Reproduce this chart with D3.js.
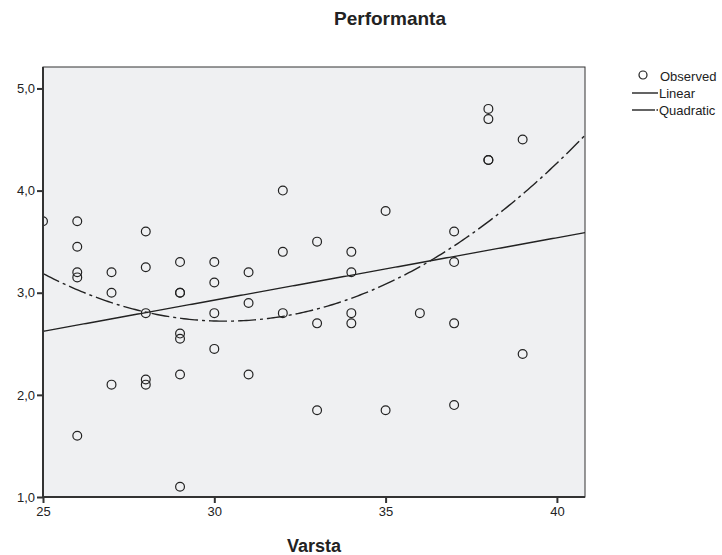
<!DOCTYPE html>
<html lang="en">
<head>
<meta charset="UTF-8">
<title>Performanta</title>
<style>
    body { margin: 0; background: #fff; }
    svg { font-family: "Liberation Sans", Arial, sans-serif; }
    .tick text { font-size: 13px; fill: #222; }
</style>
</head>
<body>
<script src="https://d3js.org/d3.v7.min.js"></script>
<script>
    // observed values: age (Varsta) and performance (Performanta)
    const varsta = [
        25,
        26, 26, 26, 26, 26,
        27, 27, 27,
        28, 28, 28, 28, 28,
        29, 29, 29, 29, 29, 29, 29,
        30, 30, 30, 30,
        31, 31, 31,
        32, 32, 32,
        33, 33, 33,
        34, 34, 34, 34,
        35, 35,
        36,
        37, 37, 37, 37,
        38, 38, 38, 38,
        39, 39
    ];
    const performanta = [
        3.7,
        3.7, 3.45, 3.2, 3.15, 1.6,
        3.2, 3.0, 2.1,
        3.6, 3.25, 2.8, 2.15, 2.1,
        3.3, 3.0, 3.0, 2.6, 2.55, 2.2, 1.1,
        3.3, 3.1, 2.8, 2.45,
        3.2, 2.9, 2.2,
        4.0, 3.4, 2.8,
        3.5, 2.7, 1.85,
        3.4, 3.2, 2.8, 2.7,
        3.8, 1.85,
        2.8,
        3.6, 3.3, 2.7, 1.9,
        4.8, 4.7, 4.3, 4.3,
        4.5, 2.4
    ];
    const xTicks = [25, 30, 35, 40];
    const yTicks = [1, 2, 3, 4, 5];
    const legendItems = ['Observed', 'Linear', 'Quadratic'];

    const W = 722, H = 555;
    const pl = 43, pr = 585, pt = 67, pb = 497;

    const svg = d3.select('body').append('svg')
        .attr('width', W).attr('height', H);

    const x = d3.scaleLinear().domain([25, 40.82]).range([pl, pr]);
    const y = d3.scaleLinear().domain([1, 5.21]).range([pb, pt]);

    // plot background + frame
    svg.append('rect')
        .attr('x', pl).attr('y', pt)
        .attr('width', pr - pl).attr('height', pb - pt)
        .attr('fill', '#eff0f2')
        .attr('stroke', '#333').attr('stroke-width', 1);

    svg.append('clipPath').attr('id', 'clip')
        .append('rect')
        .attr('x', pl).attr('y', pt)
        .attr('width', pr - pl).attr('height', pb - pt);

    // least squares fits (linear and quadratic)
    const pts = varsta.map((v, i) => [v, performanta[i]]);
    const mx = d3.mean(varsta);

    function solve(A, b) {
        const n = b.length;
        const M = A.map((r, i) => [...r, b[i]]);
        for (let c = 0; c < n; c++) {
            let p = c;
            for (let r = c + 1; r < n; r++) if (Math.abs(M[r][c]) > Math.abs(M[p][c])) p = r;
            [M[c], M[p]] = [M[p], M[c]];
            for (let r = 0; r < n; r++) {
                if (r === c) continue;
                const f = M[r][c] / M[c][c];
                for (let k = c; k <= n; k++) M[r][k] -= f * M[c][k];
            }
        }
        return M.map((r, i) => r[n] / r[i]);
    }

    function polyFit(deg) {
        const A = [], b = [];
        for (let i = 0; i <= deg; i++) {
            A.push([]);
            for (let j = 0; j <= deg; j++) A[i].push(d3.sum(pts, p => (p[0] - mx) ** (i + j)));
            b.push(d3.sum(pts, p => p[1] * (p[0] - mx) ** i));
        }
        const c = solve(A, b);
        return v => c.reduce((s, ci, i) => s + ci * (v - mx) ** i, 0);
    }

    const lin = polyFit(1), quad = polyFit(2);
    const xs = d3.range(0, 201).map(i => 25 + i * (40.82 - 25) / 200);
    const line = f => d3.line().x(v => x(v)).y(v => y(f(v)));

    const g = svg.append('g').attr('clip-path', 'url(#clip)');

    g.append('path')
        .attr('d', line(lin)(xs))
        .attr('fill', 'none').attr('stroke', '#222').attr('stroke-width', 1.4);

    g.append('path')
        .attr('d', line(quad)(xs))
        .attr('fill', 'none').attr('stroke', '#222').attr('stroke-width', 1.4)
        .attr('stroke-dasharray', '18,4,3,4');

    g.selectAll('.obs')
        .data(pts)
        .enter().append('circle')
        .attr('class', 'obs')
        .attr('cx', d => x(d[0]))
        .attr('cy', d => y(d[1]))
        .attr('r', 4.4)
        .attr('fill', 'none')
        .attr('stroke', '#222').attr('stroke-width', 1.2);

    // axes
    const xAxis = svg.append('g')
        .attr('transform', `translate(0,${pb})`)
        .call(d3.axisBottom(x).tickValues(xTicks).tickSize(6).tickPadding(4).tickFormat(d3.format('d')));
    const yAxis = svg.append('g')
        .attr('transform', `translate(${pl},0)`)
        .call(d3.axisLeft(y).tickValues(yTicks).tickSize(6).tickPadding(2).tickFormat(d => d.toFixed(1).replace('.', ',')));

    [xAxis, yAxis].forEach(a => {
        a.select('.domain').attr('stroke', '#333').attr('stroke-width', 2);
        a.selectAll('.tick line').attr('stroke', '#333').attr('stroke-width', 2);
    });
    xAxis.select('.domain').attr('d', `M${pl},0H${pr}`);
    yAxis.select('.domain').attr('d', `M0,${pb}V${pt}`);

    // titles
    svg.append('text')
        .attr('x', 390).attr('y', 25)
        .attr('text-anchor', 'middle')
        .attr('font-size', 19).attr('font-weight', 'bold').attr('fill', '#222')
        .text('Performanta');

    svg.append('text')
        .attr('x', 314).attr('y', 552)
        .attr('text-anchor', 'middle')
        .attr('font-size', 18).attr('font-weight', 'bold').attr('fill', '#222')
        .text('Varsta');

    // legend
    const lg = svg.append('g').attr('transform', 'translate(632,0)');
    const ly = [76, 93, 110];
    legendItems.forEach((t, i) => {
        if (i === 0) {
            lg.append('circle').attr('cx', 11).attr('cy', ly[i] - 1).attr('r', 4)
                .attr('fill', 'none').attr('stroke', '#222').attr('stroke-width', 1.2);
        } else {
            lg.append('line').attr('x1', 0).attr('x2', i === 1 ? 26 : 23)
                .attr('y1', ly[i]).attr('y2', ly[i])
                .attr('stroke', '#222').attr('stroke-width', 1.4);
            if (i === 2) lg.append('line').attr('x1', 24.5).attr('x2', 26)
                .attr('y1', ly[i]).attr('y2', ly[i])
                .attr('stroke', '#222').attr('stroke-width', 1.4);
        }
        lg.append('text')
            .attr('x', i === 0 ? 28 : 27).attr('y', ly[i])
            .attr('dy', '0.35em')
            .attr('font-size', 13).attr('fill', '#222')
            .text(t);
    });
</script>
</body>
</html>
